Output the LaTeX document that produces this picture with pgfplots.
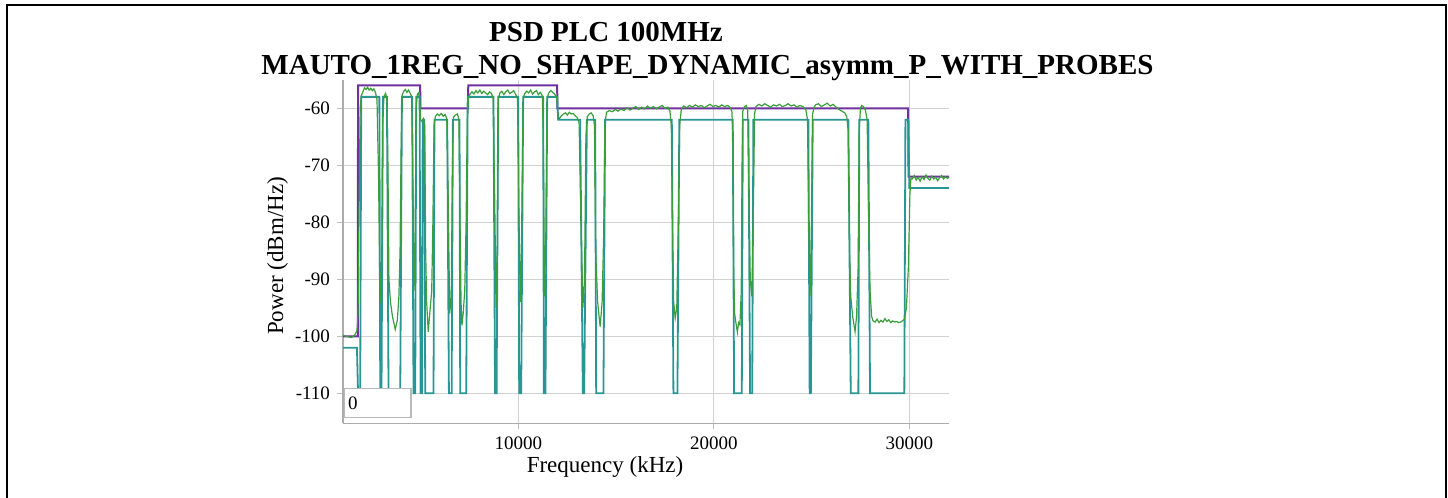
\documentclass[border=0pt]{standalone}
\usepackage{pgfplots}
\pgfplotsset{compat=1.18}
\usepackage{fontspec}
\setmainfont{Liberation Serif}
\definecolor{mpurple}{RGB}{112,48,160}
\definecolor{mteal}{RGB}{40,150,148}
\definecolor{mgreen}{RGB}{58,158,58}
\begin{document}
\begin{tikzpicture}
\path[use as bounding box] (0,0) rectangle (724pt,249pt);
\draw[line width=1pt] (3.5pt,0) -- (3.5pt,246.5pt) -- (723pt,246.5pt) -- (723pt,0);
\begin{axis}[
  at={(171.5pt,37.25pt)}, anchor=south west,
  scale only axis, width=303pt, height=171.85pt,
  xmin=1020, xmax=32030, ymin=-115.3, ymax=-55,
  axis x line=bottom, axis y line=left,
  axis line style={-, gray!65, line width=0.8pt},
  scaled x ticks=false, scaled y ticks=false,
  xtick={10000,20000,30000}, xticklabels={10000,20000,30000},
  ytick={-110,-100,-90,-80,-70,-60}, yticklabels={-110,-100,-90,-80,-70,-60},
  grid=major, major grid style={gray!35, line width=0.5pt},
  tick style={gray!50, line width=0.5pt}, tick align=outside, major tick length=3pt,
  ticklabel style={font=\fontsize{9.5}{11}\selectfont},
  clip=true,
]
\addplot[mpurple, line width=1pt] coordinates {
(1020,-100) (1780,-100) (1790,-56) (4970,-56) (4980,-60) (7420,-60) (7430,-56) (11980,-56) (11990,-60) (29940,-60) (29960,-72) (32030,-72)};
\addplot[mteal, line width=0.9pt] coordinates {
(1020,-102) (1734,-102) (1790,-110) (1900,-110) (1954,-58)
(2880,-58) (2926,-110) (2990,-110) (3064,-58)
(3268,-58) (3350,-110) (3949,-110) (4036,-58)
(4560,-58) (4629,-110) (4716,-110) (4767,-58)
(4940,-58) (4990,-110) (5060,-110) (5100,-62) (5180,-62) (5228,-110) (5652,-110) (5700,-62)
(6353,-62) (6440,-110) (6580,-110) (6644,-62)
(6982,-62) (7018,-110) (7325,-110) (7400,-58)
(8721,-58) (8800,-110) (8880,-110) (8962,-58)
(9985,-58) (10036,-110) (10138,-110) (10240,-58)
(11263,-58) (11300,-110) (11380,-110) (11468,-58)
(11979,-58) (12030,-62)
(13155,-62) (13294,-110) (13360,-110) (13500,-62)
(13923,-62) (13975,-110) (14347,-110) (14434,-62)
(17846,-62) (17928,-110) (18133,-110) (18230,-62)
(20966,-62) (21033,-110) (21427,-110) (21480,-62)
(21766,-62) (21851,-110) (21960,-110) (22020,-62)
(24833,-62) (24900,-110) (24960,-110) (25058,-62)
(26879,-62) (27002,-110) (27391,-110) (27440,-62)
(27902,-62) (27989,-110) (29744,-110) (29800,-62)
(29949,-62) (30000,-74) (32030,-74)};
\addplot[mgreen, line width=0.6pt] coordinates {
(1020,-99.8)(1150,-100.0)(1300,-100.1)(1450,-100.2)(1560,-100.0)(1650,-99.6)(1734,-99.0)(1790,-96)(1850,-75)(1900,-60)(1954,-57.8)(2050,-57.0)(2120,-56.4)(2200,-56.7)(2280,-56.3)(2360,-56.8)(2440,-56.5)(2520,-56.9)(2600,-56.6)(2680,-57.2)(2760,-58.5)(2840,-72)(2900,-90)(2950,-94)(3000,-88)(3050,-62)(3120,-57.9)(3200,-57.4)(3268,-58.3)(3320,-70)(3370,-90)(3450,-94)(3550,-96.5)(3693,-98.8)(3800,-97.2)(3880,-93)(3940,-85)(4000,-65)(4050,-57.6)(4130,-57.0)(4210,-56.7)(4290,-57.2)(4370,-56.8)(4450,-57.3)(4530,-57.9)(4590,-70)(4650,-92)(4700,-88)(4760,-60)(4820,-57.6)(4880,-57.3)(4940,-58.2)(4990,-62)(5060,-62.3)(5140,-61.8)(5200,-63)(5250,-85)(5300,-94)(5381,-99.2)(5460,-96)(5560,-92)(5620,-80)(5680,-63)(5750,-61.4)(5850,-61.0)(5950,-61.3)(6050,-60.9)(6150,-61.4)(6250,-61.1)(6330,-61.8)(6400,-75)(6480,-96)(6560,-93)(6620,-70)(6670,-61.6)(6770,-61.2)(6870,-61.0)(6950,-61.9)(7010,-80)(7060,-94)(7105,-98.1)(7170,-96)(7250,-92)(7320,-80)(7380,-62)(7440,-58.2)(7520,-57.5)(7620,-57.1)(7720,-57.5)(7820,-56.9)(7920,-57.3)(8020,-56.8)(8120,-57.4)(8220,-57.0)(8320,-57.3)(8420,-57.6)(8520,-57.1)(8620,-57.4)(8700,-58.2)(8780,-75)(8850,-95)(8920,-85)(8970,-58.3)(9050,-57.3)(9150,-57.0)(9250,-57.6)(9350,-57.1)(9450,-56.8)(9550,-57.4)(9650,-57.2)(9750,-56.9)(9850,-57.5)(9950,-58.3)(10030,-80)(10090,-94)(10150,-85)(10240,-58.2)(10320,-57.4)(10420,-57.0)(10520,-57.3)(10620,-56.8)(10720,-57.5)(10820,-57.1)(10920,-56.9)(11020,-57.6)(11120,-57.2)(11220,-57.8)(11270,-65)(11330,-93)(11400,-82)(11468,-58.2)(11550,-57.3)(11650,-56.9)(11750,-57.2)(11850,-57.5)(11950,-58.0)(12030,-61.5)(12100,-61.8)(12200,-61.3)(12300,-61.0)(12400,-60.8)(12500,-61.2)(12600,-60.7)(12700,-61.0)(12800,-60.9)(12900,-61.3)(13000,-61.6)(13100,-62.5)(13200,-80)(13294,-95)(13380,-90)(13450,-65)(13520,-61.5)(13620,-61.0)(13720,-60.8)(13820,-61.3)(13890,-63)(13950,-85)(14050,-94)(14179,-98.3)(14280,-94)(14360,-82)(14420,-63)(14500,-60.7)
(14650,-60.4)(14800,-60.6)(14950,-60.2)(15100,-60.5)(15250,-60.1)(15400,-60.4)(15550,-59.9)(15700,-60.3)(15850,-60.0)(16000,-59.7)(16150,-60.2)(16300,-59.8)(16450,-60.1)(16600,-59.6)(16750,-60.0)(16900,-59.7)(17050,-60.1)(17200,-59.8)(17350,-59.5)(17500,-60.0)(17650,-59.8)(17750,-60.5)(17820,-63)(17880,-80)(17940,-94)(18020,-96.8)(18100,-95)(18180,-80)(18250,-63)(18330,-60.2)(18450,-59.6)(18600,-59.9)(18750,-59.5)(18900,-59.8)(19050,-59.4)(19200,-59.7)(19350,-59.5)(19500,-59.9)(19650,-59.6)(19800,-59.3)(19950,-59.7)(20100,-59.5)(20250,-59.8)(20400,-59.4)(20550,-59.7)(20700,-59.5)(20850,-59.9)(20920,-60.6)(20970,-65)(21010,-88)(21060,-96)(21120,-97.5)(21202,-99.3)(21260,-97.6)(21330,-98.0)(21400,-92)(21440,-70)(21480,-60.5)(21560,-59.7)(21660,-59.5)(21730,-60.4)(21790,-75)(21860,-90)(21940,-93)(22010,-80)(22080,-61)(22150,-59.7)(22300,-59.3)(22450,-59.6)(22600,-59.2)(22750,-59.5)(22900,-59.8)(23050,-59.4)(23200,-59.6)(23350,-59.3)(23500,-59.7)(23650,-59.5)(23800,-59.2)(23950,-59.6)(24100,-59.4)(24250,-59.8)(24400,-59.5)(24550,-59.7)(24700,-60.2)(24790,-62)(24850,-80)(24920,-93)(24990,-80)(25050,-61)(25120,-59.9)(25200,-59.4)(25350,-59.2)(25500,-59.7)(25650,-59.4)(25800,-59.1)(25950,-59.6)(26100,-59.3)(26250,-59.8)(26400,-60.2)(26550,-60.5)(26700,-60.8)(26800,-61.5)(26870,-64)(26940,-85)(27002,-93)(27100,-96.5)(27222,-99.2)(27300,-96.5)(27380,-88)(27430,-64)(27500,-60.0)(27560,-59.5)(27650,-59.7)(27750,-60.3)(27840,-62)(27920,-80)(27989,-92)(28070,-96.5)(28143,-97.3)(28250,-97.5)(28350,-97.0)(28450,-97.6)(28550,-97.2)(28650,-97.5)(28750,-96.9)(28850,-97.4)(28950,-97.1)(29050,-97.6)(29150,-97.3)(29250,-97.5)(29350,-97.4)(29450,-97.6)(29550,-97.5)(29650,-97.3)(29750,-97.0)(29850,-95)(29950,-88)(30030,-75)(30080,-72.3)(30150,-72.4)(30250,-71.8)(30350,-72.6)(30450,-72.1)(30550,-72.8)(30650,-72.0)(30750,-72.5)(30850,-71.7)(30950,-72.3)(31050,-72.6)(31150,-71.9)(31250,-72.4)(31350,-72.1)(31450,-72.7)(31550,-72.2)(31650,-71.8)(31750,-72.4)(31850,-72.0)(31950,-72.3)(32030,-72.1)};
\end{axis}
\draw[gray!55, line width=0.6pt, fill=white] (172.2pt,40.35pt) rectangle (205.5pt,54.85pt);
\node[anchor=west, inner sep=0pt, font=\fontsize{9.5}{11}\selectfont] at (173.8pt,47.3pt) {0};
\node[anchor=base, font=\fontsize{14.5}{17}\selectfont\bfseries, inner sep=0pt] at (303pt,228pt) {PSD PLC 100MHz};
\node[anchor=base, font=\fontsize{14.5}{17}\selectfont\bfseries, inner sep=0pt] at (353.75pt,211.5pt) {MAUTO\_1REG\_NO\_SHAPE\_DYNAMIC\_asymm\_P\_WITH\_PROBES};
\node[anchor=base, font=\fontsize{11.5}{13}\selectfont, inner sep=0pt] at (302.5pt,12.5pt) {Frequency (kHz)};
\node[anchor=base, rotate=90, font=\fontsize{11.5}{13}\selectfont, inner sep=0pt] at (141.5pt,121pt) {Power (dBm/Hz)};
\end{tikzpicture}
\end{document}
